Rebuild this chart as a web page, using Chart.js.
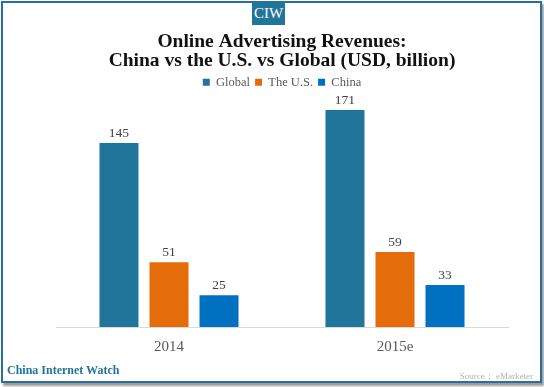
<html>

<head>
    <meta charset="utf-8">
    <title>Online Advertising Revenues</title>
    <script src="https://cdn.jsdelivr.net/npm/chart.js"></script>
    <style>
        body {
            margin: 0;
            width: 544px;
            height: 387px;
            background: #fff;
            position: relative;
            overflow: hidden;
            font-family: "Liberation Serif", serif;
        }

        #frame {
            position: absolute;
            left: 1px;
            top: 1px;
            width: 537px;
            height: 378px;
            border: 2px solid #2a6f97;
            box-shadow: 2px 3px 2px #9a9a9a;
        }

        #chartbox {
            position: absolute;
            left: 0;
            top: 0;
        }

        #ciw {
            position: absolute;
            left: 252px;
            top: 2px;
            width: 33px;
            height: 23px;
            line-height: 23px;
            background: #21759b;
            color: #fff;
            font-size: 15px;
            text-align: center;
        }

        #brand {
            position: absolute;
            left: 7px;
            top: 363px;
            font-size: 12px;
            font-weight: bold;
            color: #21759b;
        }

        #source {
            position: absolute;
            right: 11px;
            top: 370px;
            font-size: 9px;
            color: #b0b0b0;
        }
    </style>
</head>

<body>
    <div id="chartbox">
        <canvas id="myChart" width="544" height="387"></canvas>
    </div>
    <div id="frame"></div>
    <div id="ciw">CIW</div>
    <div id="brand">China Internet Watch</div>
    <div id="source">Source： eMarketer</div>

    <script>
        // values
        const years = ['2014', '2015e'];
        const globalRev = [145, 171];
        const usRev = [51, 59];
        const chinaRev = [25, 33];

        const COLORS = {
            global: '#21759b',
            us: '#e46c0a',
            china: '#0070c0'
        };

        // numbers on top of each bar
        const valueLabels = {
            id: 'valueLabels',
            afterDatasetsDraw(chart) {
                let ctx = chart.ctx;
                ctx.save();
                ctx.font = '13.5px "Liberation Serif", serif';
                ctx.fillStyle = '#404040';
                ctx.textAlign = 'center';
                ctx.textBaseline = 'bottom';
                chart.data.datasets.forEach((ds, i) => {
                    let meta = chart.getDatasetMeta(i);
                    meta.data.forEach((bar, j) => {
                        ctx.fillText(ds.data[j], bar.x, bar.y - 3);
                    });
                });
                ctx.restore();
            }
        };

        let config = {
            type: 'bar',
            data: {
                labels: years,
                datasets: [
                    { label: 'Global', data: globalRev, backgroundColor: COLORS.global },
                    { label: 'The U.S.', data: usRev, backgroundColor: COLORS.us },
                    { label: 'China', data: chinaRev, backgroundColor: COLORS.china }
                ]
            },
            options: {
                responsive: false,
                animation: false,
                categoryPercentage: 0.664,
                barPercentage: 0.78,
                layout: {
                    padding: { left: 56, right: 36, top: 32, bottom: 20 }
                },
                plugins: {
                    title: {
                        display: true,
                        text: ['Online Advertising Revenues:', 'China vs the U.S. vs Global (USD, billion)'],
                        color: '#111',
                        font: { family: '"Liberation Serif", serif', size: 19.5, weight: 'bold', lineHeight: 1.0 },
                        padding: { top: 0, bottom: 0 }
                    },
                    legend: {
                        display: true,
                        labels: {
                            boxWidth: 7,
                            boxHeight: 7,
                            padding: 5,
                            color: '#595959',
                            font: { family: '"Liberation Serif", serif', size: 12.5 }
                        }
                    },
                    tooltip: { enabled: false }
                },
                scales: {
                    x: {
                        grid: { display: false, drawTicks: false },
                        border: { display: true, color: '#d9d9d9', width: 1 },
                        ticks: {
                            padding: 11,
                            color: '#595959',
                            font: { family: '"Liberation Serif", serif', size: 15 }
                        }
                    },
                    y: {
                        display: false,
                        min: 0,
                        max: 180
                    }
                }
            },
            plugins: [valueLabels]
        };

        let myChart = new Chart(document.getElementById('myChart'), config);
    </script>
</body>

</html>
